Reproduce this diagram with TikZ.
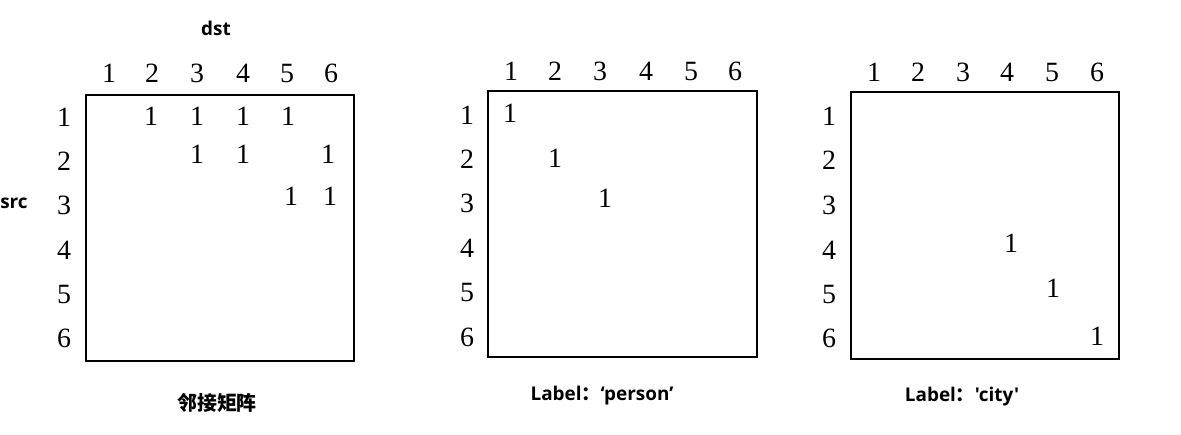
\documentclass[tikz,border=0pt]{standalone}
\usepackage{fontspec}
\setmainfont{Liberation Serif}
\newfontfamily\cjk{Noto Sans CJK SC}
\newfontfamily\latb{Open Sans}
\begin{document}
\begin{tikzpicture}[x=1bp,y=-1bp,
  num/.style={font=\rmfamily\fontsize{28}{28}\selectfont, inner sep=0pt, anchor=base, yshift=-9.3bp},
  lab/.style={font=\latb\bfseries\fontsize{19}{19}\selectfont, inner sep=0pt},
  cjkcaption/.style={font=\cjk\bfseries\fontsize{20}{20}\selectfont, inner sep=0pt},
  frame/.style={draw, line width=1.8bp}]
\newcommand\fwcolon{{\cjk\bfseries ：}}
\path[use as bounding box] (0,0) rectangle (1181,435);
% panel 1
\node[frame, minimum width=268bp, minimum height=266bp, inner sep=0pt] (boxA) at (220,228) {};
\foreach \x [count=\i] in {109,152,197,243,287,331}
  \node[num] (Ac\i) at (\x,73) {\i};
\foreach \y [count=\i] in {117,161,205,250,294,338}
  \node[num] (Ar\i) at (64,\y) {\i};
\foreach \p/\q [count=\k] in {151/116,197/116,243/116,288/116,197/154,243/154,328/154,291/196,330/196}
  \node[num] (Ae\k) at (\p,\q) {1};
\node[lab] (dst) at (216,28) {dst};
\node[lab] (src) at (14,203) {src};
\node[cjkcaption] (capA) at (217,403) {邻接矩阵};
% panel 2
\node[frame, minimum width=269bp, minimum height=266bp, inner sep=0pt] (boxB) at (622.5,224) {};
\foreach \x [count=\i] in {511,555,600,646,691,735}
  \node[num] (Bc\i) at (\x,71) {\i};
\foreach \y [count=\i] in {115,159,203,248,292,337}
  \node[num] (Br\i) at (467,\y) {\i};
\foreach \p/\q [count=\k] in {510/113,555/158,605/198}
  \node[num] (Be\k) at (\p,\q) {1};
\node[lab] (capB) at (602,396) {Label\fwcolon‘person’};
% panel 3
\node[frame, minimum width=268bp, minimum height=267bp, inner sep=0pt] (boxC) at (985,225.5) {};
\foreach \x [count=\i] in {874,918,963,1007,1052,1097}
  \node[num] (Cc\i) at (\x,72) {\i};
\foreach \y [count=\i] in {116,160,205,250,294,338}
  \node[num] (Cr\i) at (829,\y) {\i};
\foreach \p/\q [count=\k] in {1011/243,1053/288,1097/336}
  \node[num] (Ce\k) at (\p,\q) {1};
\node[lab] (capC) at (962,397) {Label\fwcolon'city'};
\end{tikzpicture}
\end{document}
